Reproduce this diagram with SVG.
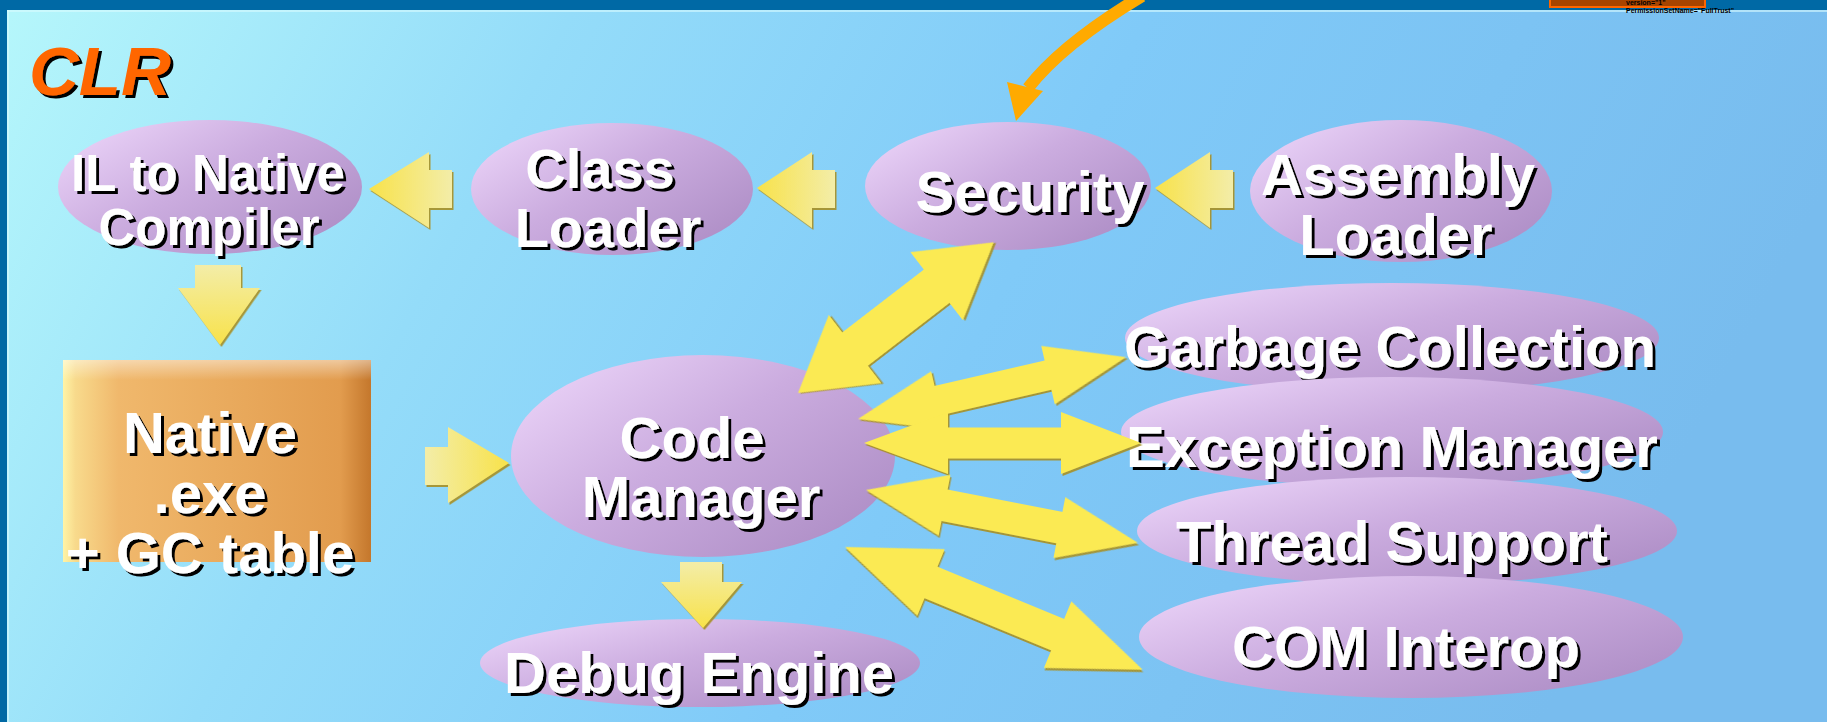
<svg xmlns="http://www.w3.org/2000/svg" width="1827" height="722" viewBox="0 0 1827 722">
<defs>
<linearGradient id="bg" gradientUnits="userSpaceOnUse" x1="0" y1="0" x2="1500" y2="800">
<stop offset="0" stop-color="#B6F7FB"/>
<stop offset="0.3" stop-color="#94DCF9"/>
<stop offset="0.6" stop-color="#80CAF8"/>
<stop offset="1" stop-color="#78BCEE"/>
</linearGradient>
<linearGradient id="ell" x1="0.05" y1="0.15" x2="0.95" y2="0.85">
<stop offset="0" stop-color="#E8D0F6"/>
<stop offset="0.45" stop-color="#CBACDF"/>
<stop offset="1" stop-color="#AE8EC6"/>
</linearGradient>
<linearGradient id="box" x1="0" y1="0" x2="1" y2="0">
<stop offset="0" stop-color="#FFF4A6"/>
<stop offset="0.04" stop-color="#F8DA8C"/>
<stop offset="0.18" stop-color="#F0B86C"/>
<stop offset="0.9" stop-color="#E29C4E"/>
<stop offset="1" stop-color="#C4772C"/>
</linearGradient>
<linearGradient id="boxTop" x1="0" y1="0" x2="0" y2="1">
<stop offset="0" stop-color="#FFFFFF" stop-opacity="0.45"/>
<stop offset="0.1" stop-color="#FFFFFF" stop-opacity="0"/>
</linearGradient>
<linearGradient id="aL" x1="0" y1="0" x2="1" y2="0">
<stop offset="0" stop-color="#F8E24A"/>
<stop offset="1" stop-color="#F3EDA8"/>
</linearGradient>
<linearGradient id="aR" x1="1" y1="0" x2="0" y2="0">
<stop offset="0" stop-color="#F8E24A"/>
<stop offset="1" stop-color="#F3EDA8"/>
</linearGradient>
<linearGradient id="aD" x1="0" y1="1" x2="0" y2="0">
<stop offset="0" stop-color="#F8E24A"/>
<stop offset="1" stop-color="#F3EDA8"/>
</linearGradient>
<filter id="ts" x="-10%" y="-30%" width="120%" height="160%">
<feDropShadow dx="3" dy="3" stdDeviation="0" flood-color="#000000" flood-opacity="1"/>
</filter>
<filter id="as" x="-10%" y="-10%" width="120%" height="130%">
<feDropShadow dx="1.5" dy="2" stdDeviation="0.6" flood-color="#A89020" flood-opacity="0.9"/>
</filter>
<style>
.lbl{font-family:"Liberation Sans",Arial,sans-serif;font-weight:bold;fill:#FFFFFF;text-anchor:middle;filter:url(#ts)}
.f58{font-size:58px}
.f56{font-size:56px}
.f52{font-size:51px}
.node{fill:url(#ell)}
.blk{filter:url(#as)}
.dbl{fill:#FBEA52;filter:url(#as)}
.tiny{font-family:"Liberation Sans",Arial,sans-serif;font-weight:bold;font-size:7px;fill:#000000}
</style>
</defs>

<rect x="0" y="0" width="1827" height="722" fill="url(#bg)"/>
<rect x="7" y="10" width="1820" height="2" fill="#D8FCFF" opacity="0.6"/>
<rect x="7" y="10" width="2" height="712" fill="#D8FCFF" opacity="0.6"/>
<rect x="0" y="0" width="1827" height="10" fill="#0069A5"/>
<rect x="0" y="0" width="7" height="722" fill="#0069A5"/>

<rect x="1550" y="-3" width="155" height="10" fill="#A84400" stroke="#FF6600" stroke-width="2"/>
<text class="tiny" x="1626" y="5">version="1"</text>
<text class="tiny" x="1626" y="13">PermissionSetName="FullTrust"</text>

<text x="29" y="95" font-family="'Liberation Sans',Arial,sans-serif" font-weight="bold" font-style="italic" font-size="69" fill="#FF6600" filter="url(#ts)">CLR</text>

<g id="il-compiler">
<ellipse class="node" cx="210" cy="187" rx="152" ry="67"/>
<text class="lbl f52" x="208" y="191">IL to Native</text>
<text class="lbl f52" x="209" y="245">Compiler</text>
</g>

<g id="class-loader">
<ellipse class="node" cx="612" cy="189" rx="141" ry="66"/>
<text class="lbl f56" x="600" y="188">Class</text>
<text class="lbl f56" x="608" y="247">Loader</text>
</g>

<g id="security">
<ellipse class="node" cx="1008" cy="186" rx="143" ry="64"/>
<text class="lbl f58" x="1030" y="212">Security</text>
</g>

<g id="assembly-loader">
<ellipse class="node" cx="1401" cy="191" rx="151" ry="71"/>
<text class="lbl f58" x="1398" y="195">Assembly</text>
<text class="lbl f58" x="1396" y="255">Loader</text>
</g>

<g id="native-exe">
<rect x="63" y="360" width="308" height="202" fill="url(#box)"/>
<rect x="63" y="360" width="308" height="202" fill="url(#boxTop)"/>
<text class="lbl f58" x="210" y="453">Native</text>
<text class="lbl f58" x="210" y="513">.exe</text>
<text class="lbl f58" x="210" y="573">+ GC table</text>
</g>

<g id="code-manager">
<ellipse class="node" cx="703" cy="456" rx="192" ry="101"/>
<text class="lbl f58" x="692" y="458">Code</text>
<text class="lbl f58" x="701" y="517">Manager</text>
</g>

<g id="debug-engine">
<ellipse class="node" cx="700" cy="663" rx="220" ry="44"/>
<text class="lbl f58" x="699" y="693">Debug Engine</text>
</g>

<g id="garbage-collection">
<ellipse class="node" cx="1392" cy="338" rx="267" ry="55"/>
<text class="lbl f58" x="1390" y="367">Garbage Collection</text>
</g>

<g id="exception-manager">
<ellipse class="node" cx="1392" cy="432" rx="271" ry="55"/>
<text class="lbl f58" x="1392" y="467">Exception Manager</text>
</g>

<g id="thread-support">
<ellipse class="node" cx="1407" cy="531" rx="270" ry="54"/>
<text class="lbl f58" x="1392" y="562">Thread Support</text>
</g>

<g id="com-interop">
<ellipse class="node" cx="1411" cy="637" rx="272" ry="61"/>
<text class="lbl f58" x="1406" y="667">COM Interop</text>
</g>

<g id="connectors">
<polygon class="blk" fill="url(#aL)" points="369,189 429,152 429,170 452,170 452,208 429,208 429,228"/>
<polygon class="blk" fill="url(#aL)" points="757,188 812,152 812,170 835,170 835,208 812,208 812,228"/>
<polygon class="blk" fill="url(#aL)" points="1155,188 1210,152 1210,170 1233,170 1233,208 1210,208 1210,228"/>
<polygon class="blk" fill="url(#aD)" points="195,265 241,265 241,288 260,288 220,345 178,288 195,288"/>
<polygon class="blk" fill="url(#aR)" points="425,447 448,447 448,427 509,463 448,503 448,485 425,485"/>
<polygon class="blk" fill="url(#aD)" points="680,562 722,562 722,582 742,582 703,628 661,582 680,582"/>
<polygon class="dbl" transform="translate(798,393) rotate(-37.6)" points="0,0 72,-43 72,-21 175,-21 175,-43 247,0 175,43 175,21 72,21 72,43"/>
<polygon class="dbl" transform="translate(858,419) rotate(-13)" points="0,0 82,-30 82,-15 195,-15 195,-30 275,0 195,30 195,15 82,15 82,30"/>
<polygon class="dbl" transform="translate(864,443)" points="0,0 84,-31 84,-15.5 197,-15.5 197,-31 277,0 197,31 197,15.5 84,15.5 84,31"/>
<polygon class="dbl" transform="translate(866,490) rotate(11)" points="0,0 80,-31 80,-16 197,-16 197,-31 277,0 197,31 197,16 80,16 80,31"/>
<polygon class="dbl" transform="translate(845,547) rotate(22.4)" points="0,0 93,-36 93,-17 230,-17 230,-36 322,0 230,36 230,17 93,17 93,36"/>
<path d="M1142,-4 Q1062,44 1028,88" fill="none" stroke="#FFAA00" stroke-width="12"/>
<polygon points="1007,82 1043,91 1016,121" fill="#FFAA00"/>
</g>
</svg>
